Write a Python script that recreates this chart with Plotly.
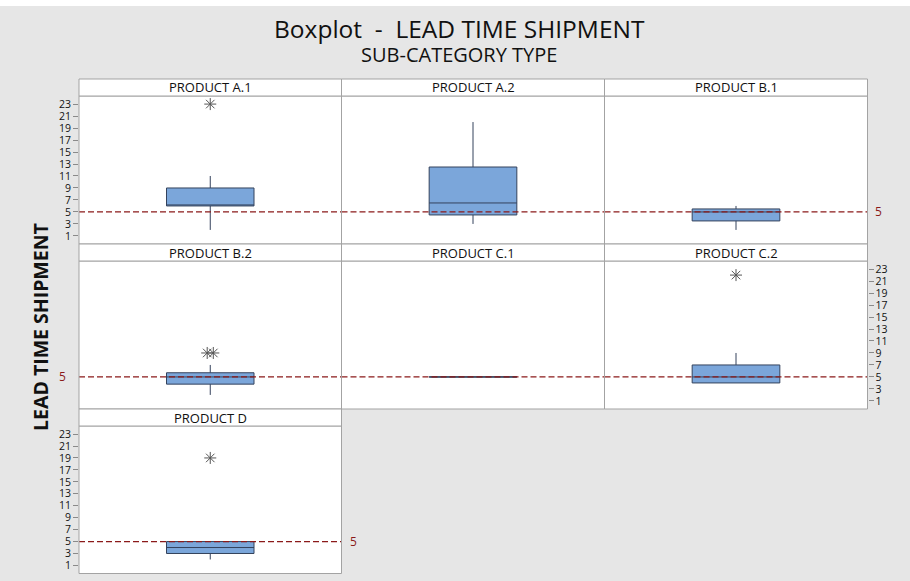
import plotly.graph_objects as go

# ---------------- data ----------------
products = ["PRODUCT A.1", "PRODUCT A.2", "PRODUCT B.1", "PRODUCT B.2",
            "PRODUCT C.1", "PRODUCT C.2", "PRODUCT D"]
q1_vals = [6, 4.5, 3.5, 3.8, 5, 4, 3]
median_vals = [6, 6.5, 5, 5, 5, 5, 4]
q3_vals = [9, 12.5, 5.5, 5.7, 5, 7, 5]
lower_whisker = [2, 3, 2, 2, 5, 4, 2]
upper_whisker = [11, 20, 6, 7, 5, 9, 5]
outliers = [[23], [], [], [9, 9], [], [22], [19]]
ref_value = 5
y_ticks = [1, 3, 5, 7, 9, 11, 13, 15, 17, 19, 21, 23]

# ---------------- layout geometry (pixels) ----------------
W, H = 910, 581
def fx(p): return p / W
def fy(p): return 1 - p / H

cols = [(79, 341.5), (341.5, 604.5), (604.5, 867.5)]
rows = [(79, 96, 244), (244, 261, 409), (409, 426, 573.5)]  # header top, plot top, plot bottom
grid = [(0, 0), (0, 1), (0, 2), (1, 0), (1, 1), (1, 2), (2, 0)]
left_axis_panels = {0, 6}
right_axis_panels = {5}
yrange = [-0.35, 24.35]

FONT = "Open Sans"
BOX_FILL = "#7ba6da"
BOX_LINE = "#34425c"
REF_COLOR = "#8b1a1a"
BORDER = "#a3a3a3"
OUT_COLOR = "#555555"

fig = go.Figure()
layout_axes = {}
shapes = []
annotations = []

for i, name in enumerate(products):
    r, c = grid[i]
    x0, x1 = cols[c]
    ht, pt, pb = rows[r]
    sfx = "" if i == 0 else str(i + 1)
    xa, ya = "x" + sfx, "y" + sfx

    # reference line (drawn first so boxes cover it)
    fig.add_trace(go.Scatter(
        x=[-1.5, 1.5], y=[ref_value, ref_value], mode="lines",
        line=dict(color=REF_COLOR, width=1.2, dash="6px,3px"),
        xaxis=xa, yaxis=ya, hoverinfo="skip", showlegend=False))

    fig.add_trace(go.Box(
        x=[0], q1=[q1_vals[i]], median=[median_vals[i]], q3=[q3_vals[i]],
        lowerfence=[lower_whisker[i]], upperfence=[upper_whisker[i]],
        width=1, whiskerwidth=0, fillcolor=BOX_FILL,
        line=dict(color=BOX_LINE, width=1), name=name,
        xaxis=xa, yaxis=ya, showlegend=False))

    if outliers[i]:
        n = len(outliers[i])
        xs = [(k - (n - 1) / 2) * 0.07 for k in range(n)]
        fig.add_trace(go.Scatter(
            x=xs, y=outliers[i], mode="markers",
            marker=dict(symbol="asterisk-open", size=10, color=OUT_COLOR,
                        line=dict(color=OUT_COLOR, width=1)),
            xaxis=xa, yaxis=ya, showlegend=False))

    show_left = i in left_axis_panels
    show_right = i in right_axis_panels
    layout_axes["xaxis" + sfx] = dict(
        domain=[fx(x0), fx(x1)], range=[-1.5, 1.5], anchor=ya,
        showticklabels=False, showgrid=False, zeroline=False,
        showline=False, ticks="", fixedrange=True)
    layout_axes["yaxis" + sfx] = dict(
        domain=[fy(pb), fy(pt)], range=yrange, anchor=xa,
        tickvals=y_ticks, showticklabels=show_left or show_right,
        ticks="outside" if (show_left or show_right) else "",
        ticklen=5, tickcolor="#8a8a8a", tickwidth=1,
        side="right" if show_right else "left",
        tickfont=dict(size=10.5, color="#111111", family=FONT),
        showgrid=False, zeroline=False, showline=False, fixedrange=True)

    # panel border
    shapes.append(dict(type="rect", xref="paper", yref="paper",
                       x0=fx(x0), x1=fx(x1), y0=fy(pb), y1=fy(pt),
                       line=dict(color=BORDER, width=1),
                       fillcolor="rgba(0,0,0,0)", layer="above"))
    # header strip
    shapes.append(dict(type="rect", xref="paper", yref="paper",
                       x0=fx(x0), x1=fx(x1), y0=fy(pt), y1=fy(ht),
                       line=dict(color=BORDER, width=1),
                       fillcolor="white", layer="above"))
    annotations.append(dict(text=name, xref="paper", yref="paper",
                            x=fx((x0 + x1) / 2), y=fy((ht + pt) / 2),
                            showarrow=False, xanchor="center", yanchor="middle",
                            font=dict(size=13, color="#111111", family=FONT)))

# reference value labels
ref_labels = [(0, 873, "left"), (3, 68, "right"), (6, 348, "left")]
for i, px, anch in ref_labels:
    sfx = "" if i == 0 else str(i + 1)
    annotations.append(dict(text=str(ref_value), xref="paper", yref="y" + sfx,
                            x=fx(px), y=ref_value, showarrow=False,
                            xanchor=anch, yanchor="middle",
                            font=dict(size=12, color=REF_COLOR, family=FONT)))

# titles
annotations.append(dict(text="Boxplot  -  LEAD TIME SHIPMENT", xref="paper", yref="paper",
                        x=fx(459), y=fy(28), showarrow=False, xanchor="center", yanchor="middle",
                        font=dict(size=24.5, color="#111111", family=FONT)))
annotations.append(dict(text="SUB-CATEGORY TYPE", xref="paper", yref="paper",
                        x=fx(459), y=fy(54), showarrow=False, xanchor="center", yanchor="middle",
                        font=dict(size=20, color="#111111", family=FONT)))
annotations.append(dict(text="<b>LEAD TIME SHIPMENT</b>", xref="paper", yref="paper",
                        x=fx(40), y=fy(327), showarrow=False, textangle=-90,
                        xanchor="center", yanchor="middle",
                        font=dict(size=19.5, color="#111111", family=FONT)))

# white strip at very top
shapes.append(dict(type="rect", xref="paper", yref="paper",
                   x0=0, x1=1, y0=fy(6), y1=1, line=dict(width=0),
                   fillcolor="white", layer="above"))

fig.update_layout(
    width=W, height=H, margin=dict(l=0, r=0, t=0, b=0),
    paper_bgcolor="#e6e6e6", plot_bgcolor="white",
    showlegend=False, shapes=shapes, annotations=annotations,
    **layout_axes)

fig.write_html("out.html", config={"displayModeBar": False},
               post_script="document.body.style.margin='0';document.body.style.overflow='hidden';")
